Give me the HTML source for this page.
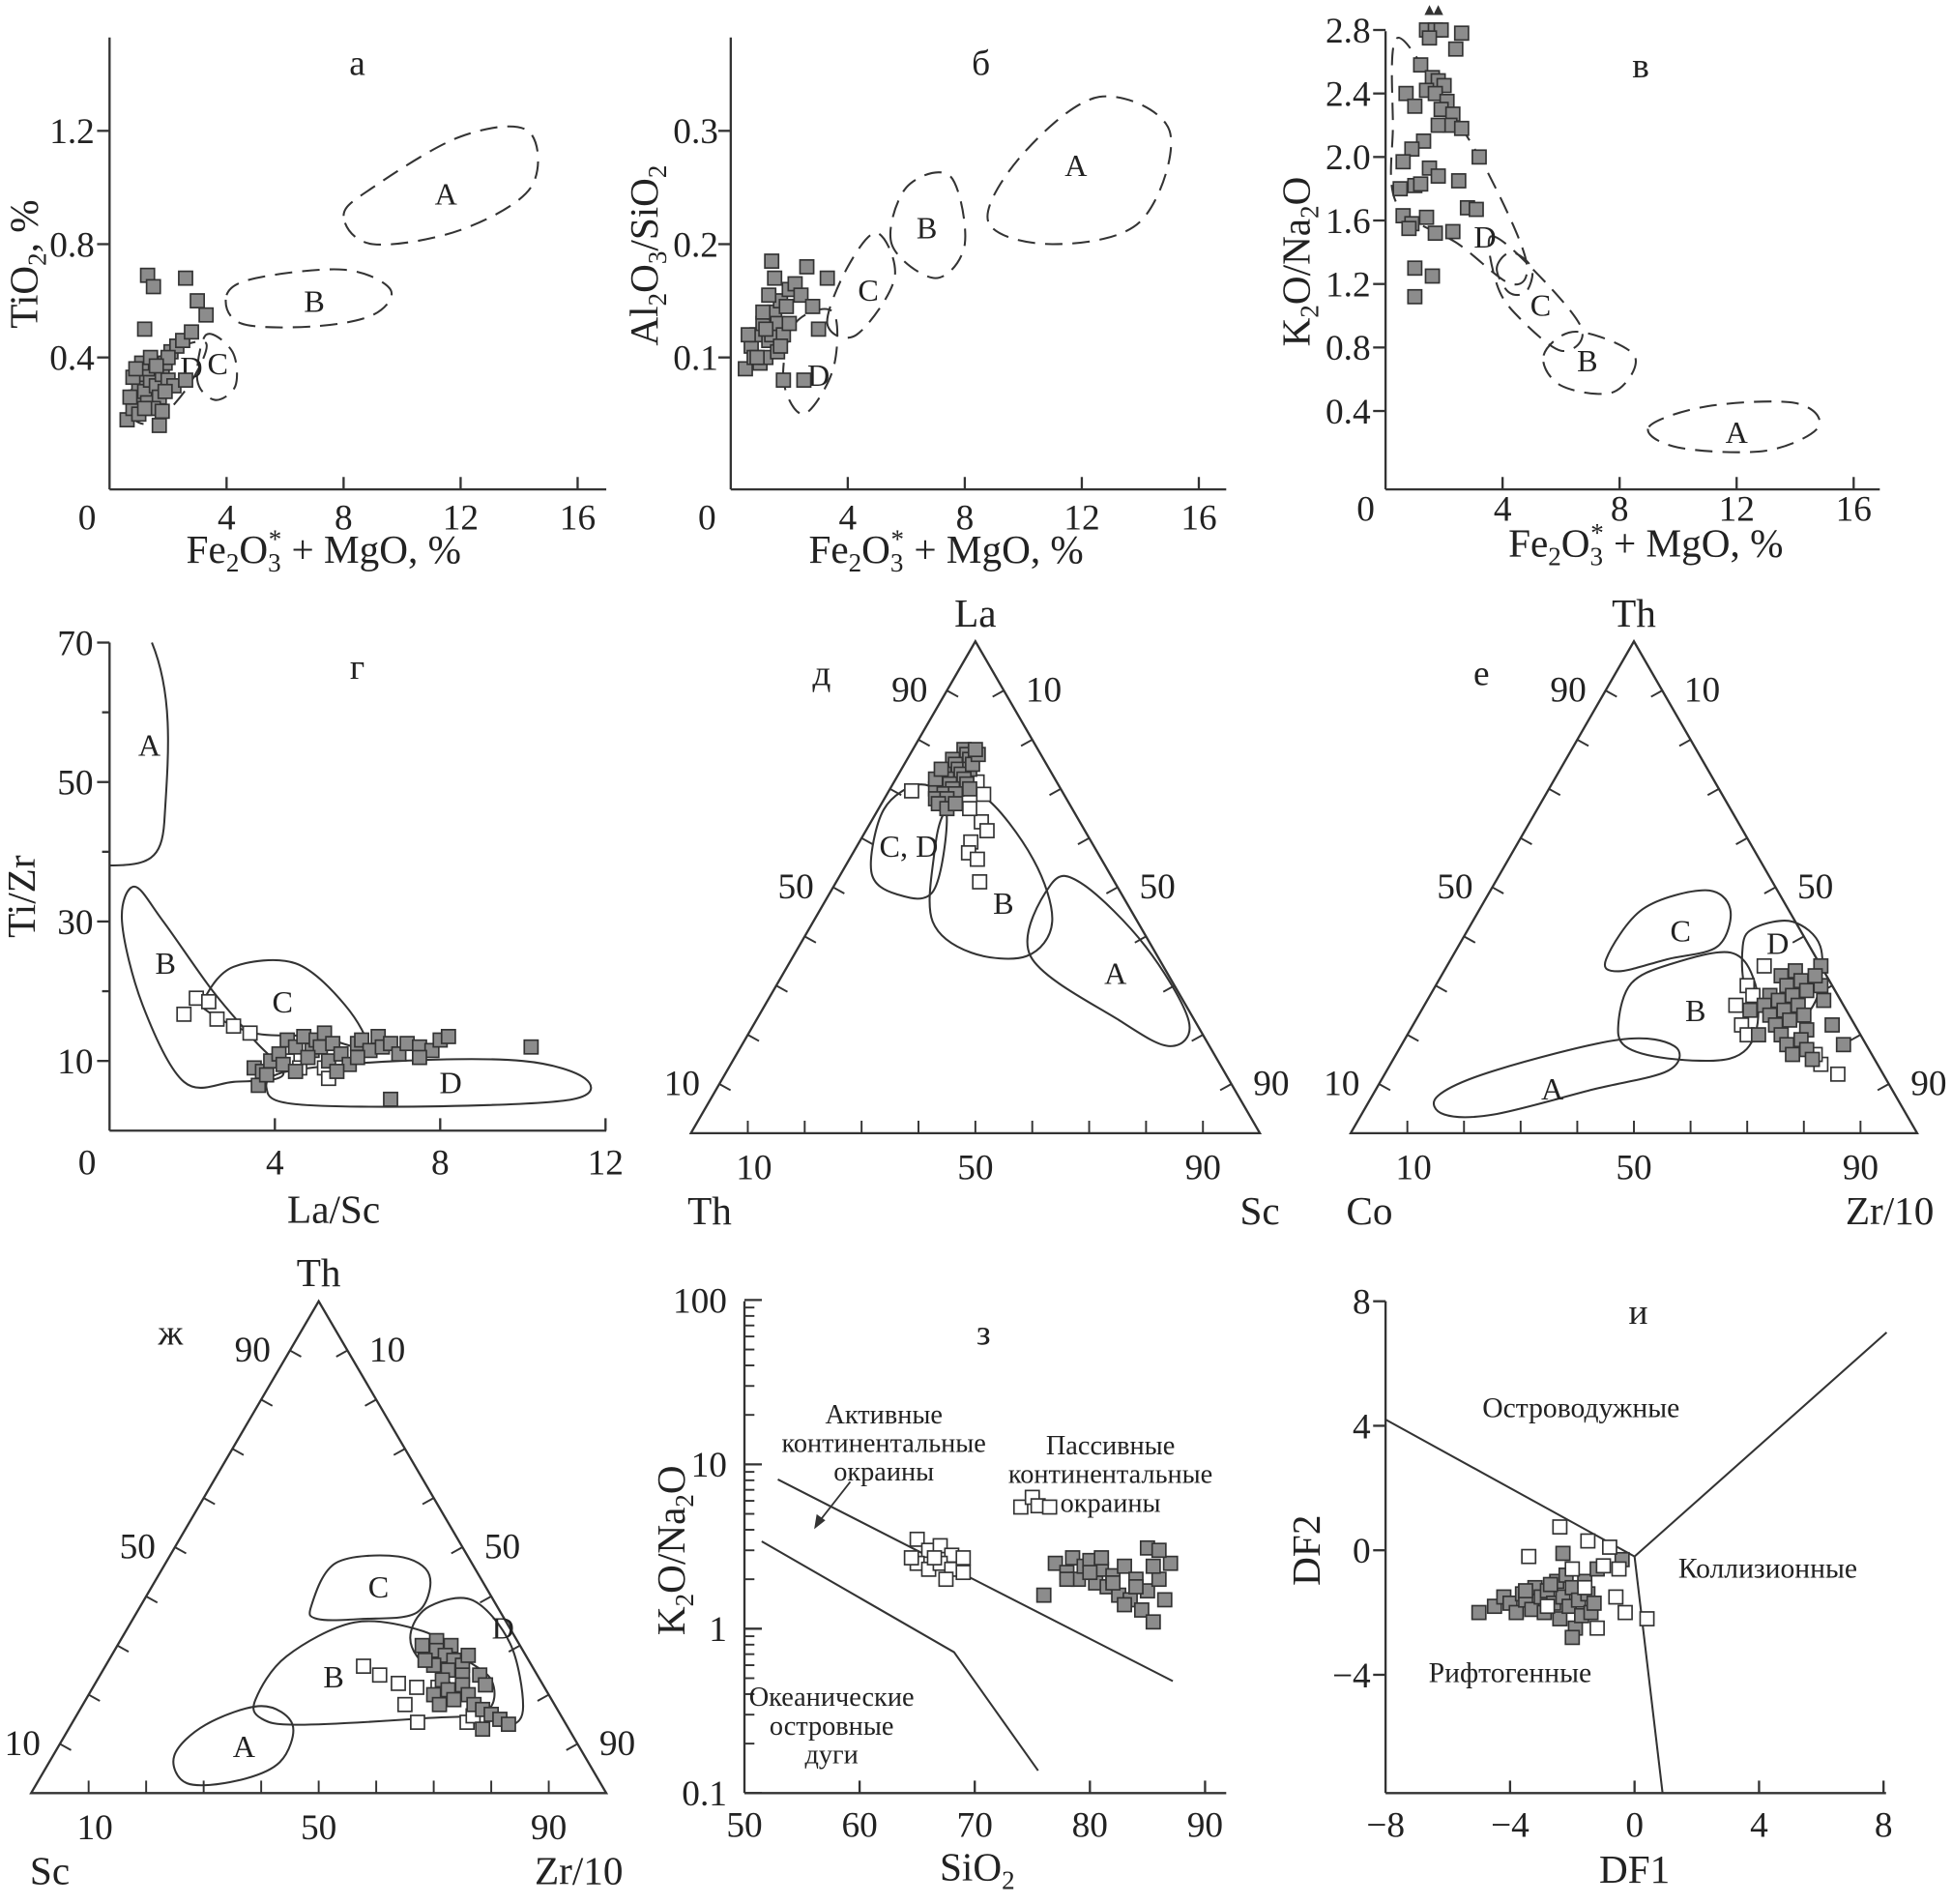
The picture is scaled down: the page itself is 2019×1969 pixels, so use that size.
<!DOCTYPE html>
<html><head><meta charset="utf-8"><style>
html,body{margin:0;padding:0;background:#fff}
svg{display:block}
text{font-family:"Liberation Serif","DejaVu Serif",serif;fill:#222}
</style></head><body>
<svg id="fig" width="2019" height="1969" viewBox="0 0 1568 1529" xmlns="http://www.w3.org/2000/svg"></svg>
<script>
// ---------- DATA ----------
const aGray=[[0.6,0.18],[0.8,0.22],[0.9,0.26],[1.0,0.3],[1.1,0.34],[1.2,0.28],[1.3,0.24],[1.4,0.32],[1.5,0.36],[1.6,0.3],[1.7,0.26],[1.8,0.34],[1.9,0.38],[2.0,0.32],[2.1,0.42],[2.3,0.44],[2.5,0.46],[2.8,0.49],[1.0,0.2],[1.3,0.36],[0.7,0.26],[1.5,0.22],[1.7,0.16],[2.2,0.3],[1.1,0.38],[0.8,0.33],[1.4,0.4],[1.9,0.28],[2.6,0.32],[1.2,0.5],[1.3,0.69],[1.5,0.65],[2.6,0.68],[3.0,0.6],[3.3,0.55],[2.0,0.4],[0.9,0.36],[1.6,0.37],[1.2,0.22],[1.8,0.21]];
const aRegA=[[8,0.9],[9,1.0],[12,1.18],[14.3,1.2],[14.4,1.0],[12,0.85],[9,0.8]];
const aRegB=[[4,0.62],[5,0.68],[8,0.71],[9.6,0.64],[9,0.55],[7,0.51],[4.5,0.52]];
const aRegC=[[3.3,0.48],[4.2,0.42],[4.3,0.3],[3.6,0.25],[3.0,0.32]];
const aRegD=[[0.7,0.2],[1.5,0.17],[2.7,0.3],[3.3,0.45],[2.0,0.42],[0.9,0.32]];
const bGray=[[0.5,0.09],[0.7,0.11],[0.8,0.1],[0.9,0.12],[1.0,0.095],[1.1,0.13],[1.2,0.1],[1.3,0.115],[1.4,0.12],[1.5,0.14],[1.6,0.13],[1.7,0.15],[1.8,0.12],[1.9,0.145],[2.0,0.16],[2.2,0.165],[2.4,0.155],[2.6,0.18],[2.8,0.145],[3.0,0.125],[1.4,0.185],[1.5,0.17],[1.6,0.105],[1.1,0.14],[0.9,0.1],[1.3,0.155],[1.8,0.08],[2.5,0.08],[1.2,0.125],[3.3,0.17],[0.6,0.12],[1.7,0.11],[2.0,0.13]];
const bRegA=[[8.8,0.22],[10,0.28],[12.6,0.33],[15,0.3],[14,0.22],[11,0.2]];
const bRegB=[[5.5,0.2],[6,0.25],[7.5,0.26],[8,0.2],[7,0.17]];
const bRegC=[[3.3,0.13],[4,0.18],[5,0.21],[5.6,0.17],[4.3,0.12]];
const bRegD=[[1.8,0.08],[2.2,0.13],[3.5,0.14],[3.5,0.09],[2.5,0.05]];
const cGray=[[1.4,2.8],[1.7,2.8],[1.9,2.8],[1.5,2.75],[2.6,2.78],[2.4,2.68],[1.2,2.58],[1.6,2.5],[1.8,2.48],[2.0,2.45],[1.4,2.42],[1.7,2.4],[2.1,2.35],[0.7,2.4],[1.0,2.32],[1.9,2.3],[2.3,2.27],[2.2,2.2],[2.6,2.18],[1.8,2.2],[1.3,2.1],[0.9,2.05],[3.2,2.0],[0.6,1.97],[1.5,1.93],[1.8,1.88],[2.5,1.85],[1.0,1.82],[1.2,1.83],[0.5,1.8],[2.8,1.68],[3.1,1.67],[0.6,1.63],[1.4,1.62],[0.9,1.58],[1.7,1.52],[2.3,1.53],[1.0,1.3],[1.6,1.25],[1.0,1.12],[0.8,1.55]];
const cRegD=[[0.4,2.75],[2,2.35],[3.5,1.9],[4.8,1.35],[4.3,1.2],[2.5,1.45],[0.4,1.7],[0.25,2.2]];
const cRegD2=[[3.8,1.3],[4.3,1.4],[5.0,1.3],[4.8,1.15],[4.2,1.15]];
const cRegC=[[3.6,1.5],[5,1.3],[6.7,0.92],[6,0.78],[4.5,1.0],[3.8,1.2]];
const cRegB=[[5.4,0.75],[6.5,0.9],[8.5,0.75],[7.8,0.52],[6,0.56]];
const cRegA=[[9,0.3],[11,0.43],[14,0.45],[14.8,0.3],[13,0.15],[10,0.17]];
const dGray=[[3.5,9],[3.7,8.5],[3.6,6.5],[3.9,10],[4.1,11],[4.3,13],[4.5,12],[4.7,13.5],[4.9,11.5],[5.0,13],[5.1,12],[5.2,14],[5.3,10],[5.4,12.5],[5.6,11],[5.8,9.5],[6.0,12.5],[6.1,13],[6.3,11.5],[6.5,13.5],[6.6,12],[6.8,12.5],[7.0,11],[7.2,12.5],[7.5,12],[7.8,11.5],[8.0,13],[8.2,13.5],[10.2,12],[6.8,4.5],[4.2,9.5],[5.5,8.5],[4.5,8.5],[6.0,10.5],[7.5,10.5],[4.8,10.5],[3.8,8]];
const dWhite=[[1.8,16.7],[2.1,19],[2.4,18.5],[2.6,16],[3.0,15],[3.4,14],[4.3,10],[5.2,9],[4.6,9],[5.3,7.5]];
const dRegB=[[0.3,30],[0.6,35],[1.3,30],[2.5,20],[3.5,13],[4.2,8],[3.0,7],[1.8,7],[0.8,18]];
const dRegC=[[2.3,19],[3.0,23.5],[4.5,24],[5.7,18],[6.2,12],[5,13.5],[3.5,14],[2.4,17]];
const dRegD=[[3.8,6],[4.3,8.5],[7,10],[10,10],[11.5,7.5],[11.2,4.5],[8,3.5],[4.5,3.8]];
const eGray=[[0.78,0.09],[0.77,0.1],[0.76,0.08],[0.76,0.11],[0.75,0.09],[0.74,0.1],[0.74,0.12],[0.73,0.08],[0.73,0.11],[0.72,0.09],[0.72,0.12],[0.71,0.1],[0.71,0.13],[0.7,0.08],[0.7,0.11],[0.69,0.1],[0.69,0.12],[0.68,0.09],[0.68,0.11],[0.67,0.1],[0.66,0.12],[0.75,0.12],[0.77,0.12],[0.72,0.07],[0.7,0.14],[0.74,0.07],[0.67,0.13],[0.78,0.11]];
const eWhite=[[0.696,0.04],[0.714,0.146],[0.689,0.17],[0.633,0.194],[0.615,0.213],[0.592,0.196],[0.57,0.203],[0.557,0.225],[0.511,0.252],[0.66,0.16]];
const eRegCD=[[0.532,0.051],[0.658,0.01],[0.709,0.05],[0.658,0.12],[0.494,0.18],[0.486,0.118]];
const eRegB=[[0.557,0.148],[0.658,0.12],[0.684,0.172],[0.557,0.323],[0.43,0.42],[0.36,0.41],[0.367,0.309],[0.43,0.21]];
const eRegA=[[0.36,0.417],[0.506,0.38],[0.506,0.436],[0.38,0.609],[0.228,0.761],[0.177,0.754],[0.228,0.641]];
const fGray=[[0.33,0.62],[0.32,0.6],[0.31,0.64],[0.3,0.62],[0.29,0.66],[0.28,0.6],[0.28,0.64],[0.27,0.62],[0.26,0.66],[0.26,0.6],[0.25,0.64],[0.24,0.62],[0.24,0.68],[0.23,0.66],[0.22,0.64],[0.21,0.7],[0.2,0.66],[0.19,0.7],[0.18,0.68],[0.17,0.72],[0.16,0.7],[0.15,0.74],[0.2,0.62],[0.3,0.68],[0.34,0.66],[0.22,0.74],[0.18,0.78],[0.25,0.58],[0.32,0.66],[0.27,0.7]];
const fWhite=[[0.34,0.56],[0.3,0.55],[0.28,0.57],[0.26,0.55],[0.22,0.58],[0.2,0.6],[0.14,0.76],[0.16,0.74],[0.12,0.8]];
const fRegD=[[0.38,0.502],[0.418,0.505],[0.43,0.565],[0.38,0.639],[0.278,0.685],[0.228,0.666],[0.278,0.564]];
const fRegC=[[0.354,0.274],[0.456,0.288],[0.494,0.379],[0.456,0.442],[0.38,0.458],[0.354,0.383],[0.329,0.308]];
const fRegB=[[0.228,0.359],[0.304,0.343],[0.342,0.389],[0.367,0.487],[0.304,0.562],[0.203,0.613],[0.152,0.594],[0.152,0.484],[0.177,0.396]];
const fRegA=[[0.076,0.116],[0.127,0.19],[0.19,0.378],[0.177,0.483],[0.127,0.497],[0.089,0.384],[0.038,0.234],[0.038,0.146]];
const gGray=[[0.31,0.55],[0.3,0.58],[0.29,0.56],[0.28,0.58],[0.27,0.6],[0.26,0.57],[0.26,0.62],[0.25,0.6],[0.24,0.63],[0.23,0.6],[0.22,0.64],[0.21,0.62],[0.2,0.66],[0.19,0.64],[0.18,0.68],[0.17,0.7],[0.16,0.72],[0.15,0.74],[0.14,0.76],[0.2,0.6],[0.24,0.66],[0.28,0.62],[0.13,0.72],[0.18,0.62],[0.22,0.68],[0.27,0.55],[0.3,0.53]];
const gWhite=[[0.258,0.449],[0.24,0.486],[0.223,0.527],[0.215,0.563],[0.215,0.6],[0.203,0.634],[0.144,0.686],[0.157,0.69],[0.144,0.6],[0.18,0.56]];
const gRegC=[[0.38,0.297],[0.468,0.296],[0.481,0.398],[0.443,0.471],[0.367,0.487],[0.354,0.397],[0.354,0.321]];
const gRegB=[[0.19,0.295],[0.278,0.305],[0.347,0.389],[0.329,0.517],[0.278,0.608],[0.228,0.687],[0.165,0.707],[0.152,0.606],[0.139,0.396],[0.152,0.324]];
const gRegD=[[0.329,0.496],[0.38,0.503],[0.392,0.572],[0.304,0.681],[0.177,0.767],[0.139,0.764],[0.165,0.697],[0.228,0.611],[0.278,0.532]];
const gRegA=[[0.076,0.211],[0.139,0.234],[0.177,0.312],[0.139,0.385],[0.063,0.401],[0.025,0.345],[0.02,0.261]];
const hWhite=[[65,3.5],[66,3.0],[67,3.2],[68,2.8],[65,2.5],[66,2.3],[67,2.5],[68,2.3],[69,2.7],[64.5,2.7],[67.5,2.0],[69,2.2],[66.5,2.7],[74,5.5],[75,6.3],[75.5,5.6],[76.5,5.5]];
const hGray=[[76,1.6],[77,2.5],[78,2.2],[78.5,2.7],[79,2.0],[79.5,2.4],[80,2.6],[80.5,1.9],[81,2.3],[81.5,1.8],[82,2.1],[82.5,1.6],[83,2.4],[83.5,1.5],[84,2.0],[84.5,1.3],[85,1.7],[85.5,1.1],[86,2.0],[86.5,1.5],[87,2.5],[85,3.1],[86,3.0],[80,2.2],[82,1.9],[84,1.8],[83,1.4],[78,2.0],[81,2.7],[85.5,2.4]];
const hLineUpper=[[52.9,8.1],[87.2,0.48]];
const hLineLower=[[51.5,3.4],[68.2,0.72],[75.5,0.137]];
const iGray=[[-5,-2],[-4.5,-1.8],[-4.2,-1.5],[-4,-1.7],[-3.8,-2],[-3.6,-1.4],[-3.5,-1.6],[-3.3,-1.9],[-3.2,-1.2],[-3,-1.5],[-2.9,-2],[-2.8,-1.3],[-2.6,-1.7],[-2.5,-1],[-2.4,-2.2],[-2.3,-1.5],[-2.2,-0.8],[-2.1,-1.8],[-2,-1.2],[-1.9,-2.5],[-1.8,-1.6],[-1.7,-2.1],[-1.6,-1],[-1.5,-1.4],[-1.4,-2],[-1.3,-1.7],[-1.2,-0.6],[-2.3,-0.1],[-0.4,-0.3],[-2,-2.8],[-3.5,-1.3],[-2.7,-1.1]];
const iWhite=[[-3.4,-0.2],[-2.4,0.75],[-1.5,0.3],[-0.8,0.1],[-0.5,-0.6],[-1,-0.5],[-0.6,-1.5],[-0.3,-2],[0.4,-2.2],[-1.2,-2.5],[-2,-0.6],[-1.6,-1.2],[-2.8,-1.8]];
const iLines=[[[-8,4.2],[0,-0.2]],[[0,-0.2],[8.1,7]],[[0,-0.2],[0.9,-7.8]]];
const ticksA=[0,4,8,12,16];

// ---------- HELPERS ----------
const svg=document.getElementById('fig');
const NS='http://www.w3.org/2000/svg';
const TS=29, LS=32;
function el(tag,attrs,parent){const e=document.createElementNS(NS,tag);for(const k in attrs)e.setAttribute(k,attrs[k]);(parent||svg).appendChild(e);return e;}
function txt(x,y,s,size,parent,anchor){const t=el('text',{x:x,y:y,'font-size':size||TS,'text-anchor':anchor||'middle'},parent);t.innerHTML=s;return t;}
function smooth(pts){let n=pts.length,d='M'+pts[0][0].toFixed(1)+','+pts[0][1].toFixed(1);
 for(let i=0;i<n;i++){const p0=pts[(i-1+n)%n],p1=pts[i],p2=pts[(i+1)%n],p3=pts[(i+2)%n];
  const c1=[p1[0]+(p2[0]-p0[0])/6,p1[1]+(p2[1]-p0[1])/6],c2=[p2[0]-(p3[0]-p1[0])/6,p2[1]-(p3[1]-p1[1])/6];
  d+=' C'+c1[0].toFixed(1)+','+c1[1].toFixed(1)+' '+c2[0].toFixed(1)+','+c2[1].toFixed(1)+' '+p2[0].toFixed(1)+','+p2[1].toFixed(1);}
 return d+'Z';}
function region(g,pts,dashed,name){const p=el('path',{d:smooth(pts),fill:'none',stroke:'#333','stroke-width':1.6,'stroke-dasharray':dashed?'14 8':'none'},g);
 
 }
function sq(g,x,y,white,name){const r=el('rect',{x:x-5.5,y:y-5.5,width:11,height:11,fill:white?'#fff':'#8c8c8c',stroke:'#333','stroke-width':1.3},g);
 
 }
function grp(name){const g=el('g',{});return g;}
function line(g,x1,y1,x2,y2,w){return el('line',{x1:x1,y1:y1,x2:x2,y2:y2,stroke:'#333','stroke-width':w||1.8},g);}
const FE='Fe<tspan dy="7" font-size="21">2</tspan><tspan dy="-7">O</tspan><tspan dy="7" font-size="21">3</tspan><tspan dx="-10" dy="-19" font-size="21">*</tspan><tspan dy="12"> + MgO, %</tspan>';

function cart(name,o){const g=grp(name);
 const X=v=>o.x0+(v-o.xmin)*o.sx, Y=v=>o.y0-(v-o.ymin)*o.sy;
 line(g,o.ax,o.ytop,o.ax,o.ay); line(g,o.ax,o.ay,o.xr,o.ay);
 return {g,X,Y};}

// ---- Panel а ----
(function(){const P=cart('panel-a',{x0:88,xmin:0,sx:23.5,y0:378,ymin:0,sy:227.5,ax:88,ay:393,ytop:30,xr:487});
 const {g,X,Y}=P;
 ticksA.forEach(v=>{if(v>0)line(g,X(v),393,X(v),383);txt(v===0?70:X(v),425,v,TS,g);});
 [0.4,0.8,1.2].forEach(v=>{line(g,78,Y(v),88,Y(v));txt(76,Y(v)+10,v.toFixed(1),TS,g,'end');});
 txt(287,60,'а',TS,g);
 const yl=txt(0,0,'TiO<tspan dy="7" font-size="21">2</tspan><tspan dy="-7">, %</tspan>',LS,g);yl.setAttribute('transform','translate(30,212) rotate(-90)');
 txt(260,452,FE,LS,g);
 const m=a=>a.map(p=>[X(p[0]),Y(p[1])]);
 region(g,m(aRegA),1,'region-a');region(g,m(aRegB),1,'region-b');region(g,m(aRegC),1,'region-c');region(g,m(aRegD),1,'region-d');
 txt(X(11.5),Y(0.98)+9,'A',25,g);txt(X(7),Y(0.6)+9,'B',25,g);txt(X(3.7),Y(0.38)+9,'C',25,g);txt(X(2.8),Y(0.38)+12,'D',25,g);
 aGray.forEach(p=>sq(g,X(p[0]),Y(p[1]),0,'sample-point'));})();

// ---- Panel б ----
(function(){const P=cart('panel-b',{x0:587,xmin:0,sx:23.5,y0:378,ymin:0,sy:910,ax:587,ay:393,ytop:30,xr:985});
 const {g,X,Y}=P;
 ticksA.forEach(v=>{if(v>0)line(g,X(v),393,X(v),383);txt(v===0?568:X(v),425,v,TS,g);});
 [0.1,0.2,0.3].forEach(v=>{line(g,577,Y(v),587,Y(v));txt(577,Y(v)+10,v.toFixed(1),TS,g,'end');});
 txt(788,60,'б',TS,g);
 const yl=txt(0,0,'Al<tspan dy="7" font-size="21">2</tspan><tspan dy="-7">O</tspan><tspan dy="7" font-size="21">3</tspan><tspan dy="-7">/SiO</tspan><tspan dy="7" font-size="21">2</tspan>',LS,g);yl.setAttribute('transform','translate(528,205) rotate(-90)');
 txt(760,452,FE,LS,g);
 const m=a=>a.map(p=>[X(p[0]),Y(p[1])]);
 region(g,m(bRegA),1,'region-a');region(g,m(bRegB),1,'region-b');region(g,m(bRegC),1,'region-c');region(g,m(bRegD),1,'region-d');
 txt(X(11.8),Y(0.27)+9,'A',25,g);txt(X(6.7),Y(0.215)+9,'B',25,g);txt(X(4.7),Y(0.16)+9,'C',25,g);txt(X(3.0),Y(0.085)+9,'D',25,g);
 bGray.forEach(p=>sq(g,X(p[0]),Y(p[1]),0,'sample-point'));})();

// ---- Panel в ----
(function(){const P=cart('panel-v',{x0:1113,xmin:0,sx:23.5,y0:381,ymin:0,sy:127.5,ax:1113,ay:393,ytop:25,xr:1510});
 const {g,X,Y}=P;
 ticksA.forEach(v=>{if(v>0)line(g,X(v),393,X(v),383);txt(v===0?1097:X(v),418,v,TS,g);});
 [0.4,0.8,1.2,1.6,2.0,2.4,2.8].forEach(v=>{line(g,1103,Y(v),1113,Y(v));txt(1101,Y(v)+10,v.toFixed(1),TS,g,'end');});
 txt(1318,62,'в',TS,g);
 const yl=txt(0,0,'K<tspan dy="7" font-size="21">2</tspan><tspan dy="-7">O/Na</tspan><tspan dy="7" font-size="21">2</tspan><tspan dy="-7">O</tspan>',LS,g);yl.setAttribute('transform','translate(1052,210) rotate(-90)');
 txt(1322,447,FE,LS,g);
 const m=a=>a.map(p=>[X(p[0]),Y(p[1])]);
 region(g,m(cRegD),1,'region-d');region(g,m(cRegD2),1,'region-d-inner');region(g,m(cRegC),1,'region-c');region(g,m(cRegB),1,'region-b');region(g,m(cRegA),1,'region-a');
 txt(X(12),Y(0.27)+9,'A',25,g);txt(X(6.9),Y(0.72)+9,'B',25,g);txt(X(5.3),Y(1.07)+9,'C',25,g);txt(X(3.4),Y(1.5)+9,'D',25,g);
 [1.5,1.8].forEach(v=>{el('path',{d:'M'+(X(v)-4)+','+(Y(2.8)-12)+' l4,-8 l4,8z',fill:'#333'},g);});
 cGray.forEach(p=>sq(g,X(p[0]),Y(p[1]),0,'sample-point'));})();

// ---- Panel г ----
(function(){const P=cart('panel-g',{x0:88,xmin:0,sx:33.2,y0:908,ymin:0,sy:5.6,ax:88,ay:908,ytop:516,xr:487});
 const {g,X,Y}=P;
 [0,4,8,12].forEach(v=>{if(v>0)line(g,X(v),908,X(v),898);txt(v===0?70:X(v),943,v,TS,g);});
 [10,30,50,70].forEach(v=>{line(g,78,Y(v),88,Y(v));txt(75,Y(v)+10,v,TS,g,'end');});
 [20,40,60].forEach(v=>line(g,82,Y(v),88,Y(v)));
 txt(287,545,'г',TS,g);
 const yl=txt(0,0,'Ti/Zr',LS,g);yl.setAttribute('transform','translate(28,720) rotate(-90)');
 txt(268,982,'La/Sc',LS,g);
 const m=a=>a.map(p=>[X(p[0]),Y(p[1])]);
 el('path',{d:'M88,695 C120,695 130,690 132,660 C135,610 140,560 122,516',fill:'none',stroke:'#333','stroke-width':1.6},g);
 region(g,m(dRegB),0,'region-b');region(g,m(dRegC),0,'region-c');region(g,m(dRegD),0,'region-d');
 txt(120,607,'A',25,g);txt(133,782,'B',25,g);txt(227,813,'C',25,g);txt(362,878,'D',25,g);
 dWhite.forEach(p=>sq(g,X(p[0]),Y(p[1]),1,'sample-point-white'));
 dGray.forEach(p=>sq(g,X(p[0]),Y(p[1]),0,'sample-point'));})();

// ---- Ternary ----
function tern(name,T,lab){const g=grp(name);
 const P=(a,r)=>[T.lx+(T.rx-T.lx)*(r+a/2),T.ly-(T.ly-T.ay)*a];
 el('path',{d:'M'+T.lx+','+T.ly+' L'+((T.lx+T.rx)/2)+','+T.ay+' L'+T.rx+','+T.ly+'Z',fill:'none',stroke:'#333','stroke-width':1.8},g);
 for(let i=1;i<10;i++){const f=i/10;
  const b=P(0,f);line(g,b[0],b[1],b[0],b[1]-10,1.5);
  const l=P(f,0);line(g,l[0],l[1],l[0]+9,l[1]+5,1.5);
  const r=P(f,1-f);line(g,r[0],r[1],r[0]-9,r[1]+5,1.5);}
 [[0.1,'10'],[0.5,'50'],[0.9,'90']].forEach(([f,s])=>{const b=P(0,f);txt(b[0]+(f==0.1?5:0),T.ly+37,s,TS,g);});
 [[0.9,'90'],[0.5,'50'],[0.1,'10']].forEach(([f,s])=>{const l=P(f,0);txt(l[0]-30,l[1]+9,s,TS,g);});
 [[0.9,'10'],[0.5,'50'],[0.1,'90']].forEach(([f,s])=>{const r=P(f,1-f);txt(r[0]+32,r[1]+9,s,TS,g);});
 txt((T.lx+T.rx)/2,T.ay-12,lab[0],LS,g);txt(T.lx+15,T.ly+73,lab[1],LS,g);txt(T.rx-(lab[2].length>2?22:0),T.ly+73,lab[2],LS,g);
 txt(T.lx+(T.tx||105),T.ay+35,lab[3],TS,g);
 return {g,P};}

(function(){const {g,P}=tern('panel-d',{lx:555,rx:1012,ly:910,ay:515,tx:105},['La','Th','Sc','д']);
 const m=a=>a.map(p=>P(p[0],p[1]));
 region(g,m(eRegCD),0,'region-cd');region(g,m(eRegB),0,'region-b');region(g,m(eRegA),0,'region-a');
 txt(730,688,'C, D',25,g);txt(806,734,'B',25,g);txt(896,790,'A',25,g);
 eWhite.forEach(p=>{const q=P(p[0],p[1]);sq(g,q[0],q[1],1,'sample-point-white');});
 eGray.forEach(p=>{const q=P(p[0],p[1]);sq(g,q[0],q[1],0,'sample-point');});})();

(function(){const {g,P}=tern('panel-e',{lx:1085,rx:1540,ly:910,ay:515,tx:105},['Th','Co','Zr/10','е']);
 const m=a=>a.map(p=>P(p[0],p[1]));
 region(g,m(fRegD),0,'region-d');region(g,m(fRegC),0,'region-c');region(g,m(fRegB),0,'region-b');region(g,m(fRegA),0,'region-a');
 txt(1428,766,'D',25,g);txt(1350,756,'C',25,g);txt(1362,820,'B',25,g);txt(1247,883,'A',25,g);
 fWhite.forEach(p=>{const q=P(p[0],p[1]);sq(g,q[0],q[1],1,'sample-point-white');});
 fGray.forEach(p=>{const q=P(p[0],p[1]);sq(g,q[0],q[1],0,'sample-point');});})();

(function(){const {g,P}=tern('panel-zh',{lx:25,rx:487,ly:1440,ay:1045,tx:112},['Th','Sc','Zr/10','ж']);
 const m=a=>a.map(p=>P(p[0],p[1]));
 region(g,m(gRegC),0,'region-c');region(g,m(gRegB),0,'region-b');region(g,m(gRegD),0,'region-d');region(g,m(gRegA),0,'region-a');
 txt(304,1283,'C',25,g);txt(268,1355,'B',25,g);txt(404,1316,'D',25,g);txt(196,1411,'A',25,g);
 gWhite.forEach(p=>{const q=P(p[0],p[1]);sq(g,q[0],q[1],1,'sample-point-white');});
 gGray.forEach(p=>{const q=P(p[0],p[1]);sq(g,q[0],q[1],0,'sample-point');});})();

// ---- Panel з (log) ----
(function(){const g=grp('panel-z');
 const X=v=>598+(v-50)*9.25, Y=v=>1308-Math.log10(v)*132;
 line(g,598,1045,598,1440);line(g,598,1440,985,1440);
 [50,60,70,80,90].forEach(v=>{if(v>50)line(g,X(v),1440,X(v),1430);txt(X(v),1475,v,TS,g);});
 [0.1,1,10,100].forEach(v=>{line(g,598,Y(v),612,Y(v));txt(584,Y(v)+10,v,TS,g,'end');});
 [0.1,1,10].forEach(d=>{for(let k=2;k<10;k++)line(g,598,Y(d*k),606,Y(d*k),1.5);});
 txt(790,1080,'з',TS,g);
 const yl=txt(0,0,'K<tspan dy="7" font-size="21">2</tspan><tspan dy="-7">O/Na</tspan><tspan dy="7" font-size="21">2</tspan><tspan dy="-7">O</tspan>',LS,g);yl.setAttribute('transform','translate(550,1245) rotate(-90)');
 txt(785,1510,'SiO<tspan dy="7" font-size="21">2</tspan>',LS,g);
 const pl=a=>a.map(p=>X(p[0])+','+Y(p[1])).join(' ');
 el('polyline',{points:pl(hLineUpper),fill:'none',stroke:'#333','stroke-width':1.6},g);
 el('polyline',{points:pl(hLineLower),fill:'none',stroke:'#333','stroke-width':1.6},g);
 line(g,683,1190,658,1222,1.4);el('path',{d:'M654,1228 l2,-12 l7,5z',fill:'#333'},g);
 [['Активные',1143],['континентальные',1166],['окраины',1189]].forEach(([s,y])=>txt(710,y,s,22,g));
 [['Пассивные',1168],['континентальные',1191],['окраины',1214]].forEach(([s,y])=>txt(892,y,s,22,g));
 [['Океанические',1370],['островные',1393],['дуги',1416]].forEach(([s,y])=>txt(668,y,s,22,g));
 hWhite.forEach(p=>sq(g,X(p[0]),Y(p[1]),1,'sample-point-white'));
 hGray.forEach(p=>sq(g,X(p[0]),Y(p[1]),0,'sample-point'));})();

// ---- Panel и ----
(function(){const g=grp('panel-i');
 const X=v=>1313+v*25, Y=v=>1245-v*25;
 line(g,1113,1045,1113,1440);line(g,1113,1440,1515,1440);
 [-8,-4,0,4,8].forEach(v=>{if(v>-8)line(g,X(v),1440,X(v),1430);txt(X(v),1475,(v<0?'−':'')+Math.abs(v),TS,g);});
 [-4,0,4,8].forEach(v=>{line(g,1103,Y(v),1113,Y(v));txt(1101,Y(v)+10,(v<0?'−':'')+Math.abs(v),TS,g,'end');});
 txt(1316,1063,'и',TS,g);
 const yl=txt(0,0,'DF2',LS,g);yl.setAttribute('transform','translate(1060,1245) rotate(-90)');
 txt(1313,1512,'DF1',LS,g);
 iLines.forEach(L=>line(g,X(L[0][0]),Y(L[0][1]),X(L[1][0]),Y(L[1][1]),1.6));
 txt(1270,1138,'Островодужные',23,g);txt(1420,1267,'Коллизионные',23,g);txt(1213,1351,'Рифтогенные',23,g);
 iGray.forEach(p=>sq(g,X(p[0]),Y(p[1]),0,'sample-point'));
 iWhite.forEach(p=>sq(g,X(p[0]),Y(p[1]),1,'sample-point-white'));})();
</script>
</body></html>
